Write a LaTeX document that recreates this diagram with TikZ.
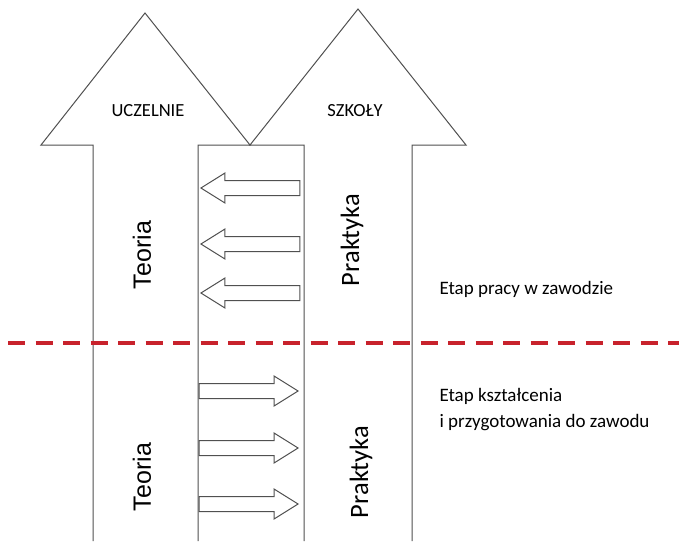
\documentclass[tikz,border=0pt]{standalone}
\usepackage{fontspec}
\setmainfont{Carlito}
\newfontfamily\arialfont{Liberation Sans}
\usetikzlibrary{shapes.arrows,positioning}
\definecolor{etapred}{RGB}{200,34,44}
\definecolor{linegrey}{RGB}{80,80,80}

\begin{document}
\begin{tikzpicture}[x=1pt,y=-1pt]
		\tikzstyle{bigarrow} = [draw=linegrey, line width=1pt, fill=white];
		\tikzstyle{smallarrow} = [draw=linegrey, line width=1pt, single arrow, minimum height=99pt,
		text height=0pt, text depth=0pt, inner xsep=0pt, inner ysep=7pt,
		single arrow head extend=7.5pt, single arrow tip angle=64, anchor=tip];
		\tikzstyle{head} = [font=\fontsize{18.5}{22}\selectfont];
		\tikzstyle{teoria} = [rotate=90, font=\arialfont\fontsize{25}{28}\selectfont];
		\tikzstyle{praktyka} = [rotate=90, font=\fontsize{26.5}{30}\selectfont];
		\tikzstyle{etap} = [font=\fontsize{19}{26}\selectfont, align=left, anchor=west];
		\useasboundingbox (0,0) rectangle (679,541);
		% the two big arrows
		\draw[bigarrow] (93,541) -- (93,145) -- (41,145) -- (145,13) -- (250,145) -- (198,145) -- (198,541);
		\draw[bigarrow] (304,541) -- (304,145) -- (250,145) -- (358,9) -- (466,145) -- (412,145) -- (412,541);
		\node[head](uczelnie) at (148,111) {UCZELNIE};
		\node[head](szkoly) at (355,111) {SZKOŁY};
		% small arrows between them
		\foreach \y [count=\i] in {188,244,293}
			\node[smallarrow, shape border rotate=180](back\i) at (200,\y) {};
		\foreach \y [count=\i] in {391,448,504}
			\node[smallarrow](fwd\i) at (299,\y) {};
		\node[teoria](teoria1) at (142,255) {Teoria};
		\node[teoria](teoria2) at (142,477) {Teoria};
		\node[praktyka](praktyka1) at (352,240) {Praktyka};
		\node[praktyka](praktyka2) at (361,472) {Praktyka};
		% border between the two stages
		\coordinate (lineL) at (8,343);
		\coordinate (lineR) at (679,343);
		\draw[etapred, line width=4pt, dash pattern=on 17pt off 10.5pt] (lineL) -- (lineR);
		\node[etap](praca) at (436,289) {Etap pracy w zawodzie};
		\node[etap](ksztalcenie) at (436,410) {Etap kształcenia\\i przygotowania do zawodu};
	\end{tikzpicture}
\end{document}
